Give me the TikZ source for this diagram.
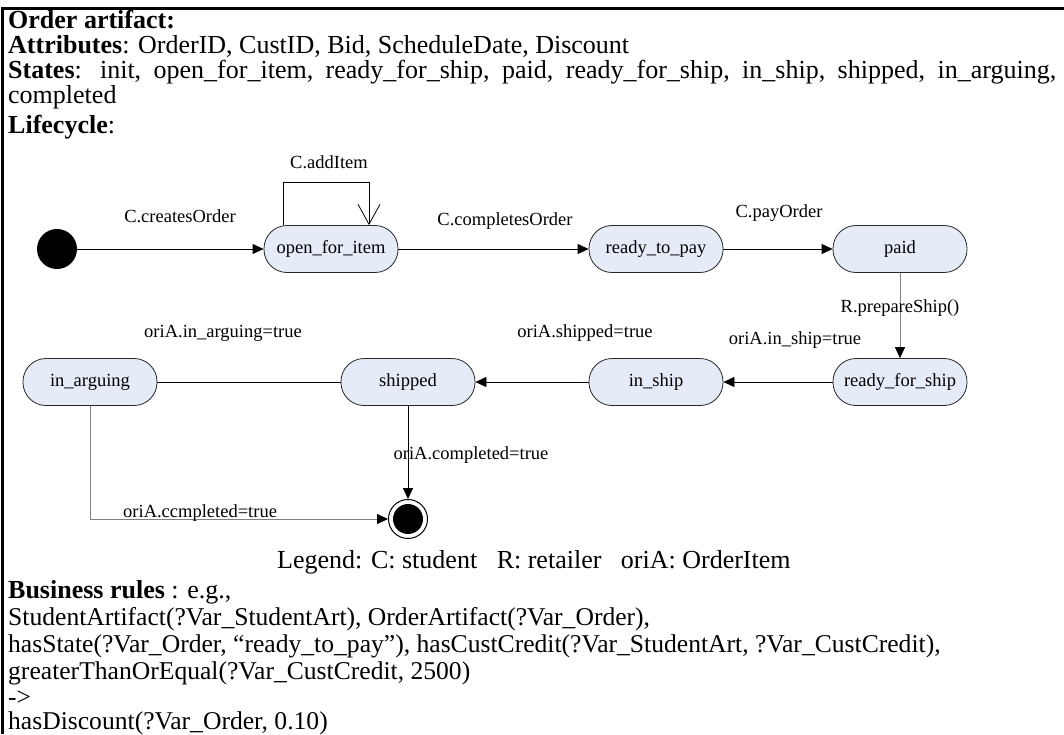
\documentclass[tikz,border=0pt]{standalone}
\usepackage{fontspec}
\usepackage{graphicx}
\setmainfont{Liberation Serif}
\usetikzlibrary{arrows.meta}
\definecolor{stfill}{RGB}{230,236,247}
\definecolor{lgray}{RGB}{128,128,128}
\begin{document}
\begin{tikzpicture}[x=1pt,y=-1pt,
  state/.style={draw=black!85, fill=stfill, rounded corners=23pt, minimum width=134pt, minimum height=47pt, font=\fontsize{18.5}{20}\selectfont, inner sep=0pt, line width=0.8pt},
  lbl/.style={font=\fontsize{18.5}{20}\selectfont, inner sep=0pt},
  body/.style={anchor=base west, inner sep=0pt, font=\fontsize{26}{28}\selectfont},
  rule/.style={anchor=base west, inner sep=0pt, font=\fontsize{25.6}{28}\selectfont},
  conn/.style={line width=0.8pt},
  arr/.style={conn, -{Triangle[length=11pt,width=10pt,color=black]}},
  barb/.style={conn, -{Straight Barb[length=20pt,width=22pt]}}
]
\useasboundingbox (0,0) rectangle (1064,734);
\fill[white] (0,0) rectangle (1064,734);
\draw[line width=3pt] (2,734) -- (2,8) -- (1064,8);

% header text
\node[body] (t1) at (8,28) {\textbf{Order artifact:}};
\node[body] (t2) at (8,53) {\textbf{Attributes}: OrderID, CustID, Bid, ScheduleDate, Discount};
\node[body] (t3) at (8,78) {\makebox[1048pt][s]{\textbf{States}: init, open\_for\_item, ready\_for\_ship, paid, ready\_for\_ship, in\_ship, shipped, in\_arguing,}};
\node[body] (t4) at (8,103) {completed};
\node[body] (t5) at (8,133) {\textbf{Lifecycle}:};

% states
\node[circle, fill=black, minimum size=40pt, inner sep=0pt] (init) at (57,249) {};
\node[state] (ofi) at (331,249) {open\_for\_item};
\node[state] (rtp) at (656,249) {ready\_to\_pay};
\node[state] (paid) at (900,249) {paid};
\node[state] (rfs) at (900,382) {ready\_for\_ship};
\node[state] (ins) at (656,382) {in\_ship};
\node[state] (shp) at (408,382) {shipped};
\node[state] (arg) at (90,382) {in\_arguing};
\node[circle, draw=black, line width=1pt, minimum size=39pt, inner sep=0pt] (fin) at (408,519) {};
\fill[black] (fin.center) circle (15pt);

% connectors
\draw[arr] (init) -- (ofi);
\draw[barb] ([xshift=-48pt]ofi.north) -- ++(0,-43) -| ([xshift=38pt]ofi.north);
\draw[arr] (ofi) -- (rtp);
\draw[arr] (rtp) -- (paid);
\draw[arr, draw=lgray] (paid) -- (rfs);
\draw[arr] (rfs) -- (ins);
\draw[arr] (ins) -- (shp);
\draw[conn] (arg) -- (shp);
\draw[arr] (shp) -- (fin);
\draw[arr, draw=lgray] (arg.south) |- (fin);

% labels
\node[lbl] (l1) at (180,216) {C.createsOrder};
\node[lbl] (l2) at (329,162) {C.addItem};
\node[lbl] (l3) at (505,221) {C.completesOrder};
\node[lbl] (l4) at (779,213) {C.payOrder};
\node[lbl] (l5) at (900,308) {R.prepareShip()};
\node[lbl] (l6) at (795,340) {oriA.in\_ship=true};
\node[lbl] (l7) at (585,333) {oriA.shipped=true};
\node[lbl] (l8) at (223,333) {oriA.in\_arguing=true};
\node[lbl] (l9) at (471,455) {oriA.completed=true};
\node[lbl, anchor=base west] (l10) at (123,517) {oriA.ccmpleted=true};

\node[body] (leg) at (277,568) {Legend: C: student\ \ \ R: retailer\ \ \ oriA: OrderItem};

% business rules
\node[body] (b1) at (8,598) {\textbf{Business rules} : e.g.,};
\node[rule] (b2) at (8,625) {StudentArtifact(?Var\_StudentArt), OrderArtifact(?Var\_Order),};
\node[rule] (b3) at (8,652) {hasState(?Var\_Order, “ready\_to\_pay”), hasCustCredit(?Var\_StudentArt, ?Var\_CustCredit),};
\node[rule] (b4) at (8,679) {greaterThanOrEqual(?Var\_CustCredit, 2500)};
\node[rule] (b5) at (8,705) {->};
\node[rule] (b6) at (8,729) {hasDiscount(?Var\_Order, 0.10)};
\end{tikzpicture}
\end{document}
